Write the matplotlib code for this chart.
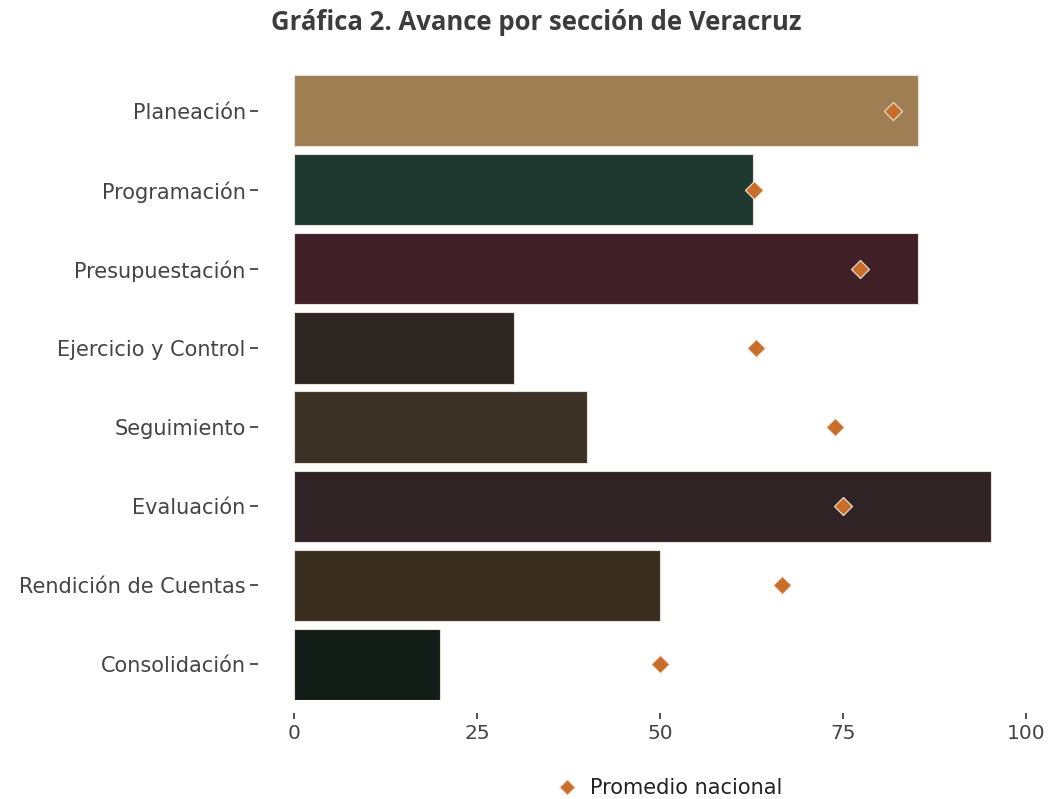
import matplotlib

matplotlib.use("Agg")
import matplotlib.pyplot as plt
from matplotlib.lines import Line2D

plt.rcParams["font.family"] = ["DejaVu Sans"]

SECTIONS = [
    "Planeación",
    "Programación",
    "Presupuestación",
    "Ejercicio y Control",
    "Seguimiento",
    "Evaluación",
    "Rendición de Cuentas",
    "Consolidación",
]
VERACRUZ = [85.2, 62.7, 85.2, 30, 40, 95.2, 50, 20]
NACIONAL = [81.8, 62.8, 77.3, 63.1, 73.9, 75.0, 66.7, 50.0]
BAR_COLORS = [
    "#a07e53", "#203930", "#401f27", "#2d2620",
    "#3b3225", "#302326", "#382d1e", "#121d18",
]
DIAMOND = "#c96e2a"
TEXT = "#444444"

fig = plt.figure(figsize=(10.5, 7.99), dpi=100)
ax = fig.add_axes([0.28, 0.124, 0.697, 0.782])

pos = list(range(len(SECTIONS)))
ax.barh(pos, VERACRUZ, height=0.9, color=BAR_COLORS, edgecolor="#e8e0d8", linewidth=0.8)
ax.scatter(NACIONAL, pos, marker="D", s=85, color=DIAMOND, edgecolor="#f4e8dc",
           linewidth=0.8, zorder=3)

ax.set_xlim(0, 100)
ax.set_ylim(len(SECTIONS) - 0.55, -0.45)
ax.set_yticks(pos)
ax.set_yticklabels(SECTIONS)
ax.set_xticks([0, 25, 50, 75, 100])

for side in ("top", "right"):
    ax.spines[side].set_visible(False)
ax.spines["left"].set_position(("outward", 26))
ax.spines["bottom"].set_position(("outward", 9.5))
ax.spines["left"].set_visible(False)
ax.spines["bottom"].set_visible(False)
ax.tick_params(axis="y", length=5.8, width=1.3, color=TEXT, labelcolor=TEXT,
               labelsize=15, pad=3)
ax.tick_params(axis="x", length=4, width=1.3, color=TEXT, labelcolor=TEXT,
               labelsize=14.5, pad=4)

fig.text(0.511, 0.972, "Gráfica 2. Avance por sección de Veracruz", ha="center",
         va="center", fontsize=18.5, fontweight="bold", color="#3c3c3c",
         family="Open Sans")

handle = Line2D([], [], marker="D", linestyle="none", color=DIAMOND,
                markersize=8, markeredgecolor="#f4e8dc")
fig.legend([handle], ["Promedio nacional"], loc="center", bbox_to_anchor=(0.633, 0.0138),
           frameon=False, fontsize=15, handletextpad=0.1, labelcolor="#222222")

fig.savefig("out.png", dpi=100, facecolor="white")
